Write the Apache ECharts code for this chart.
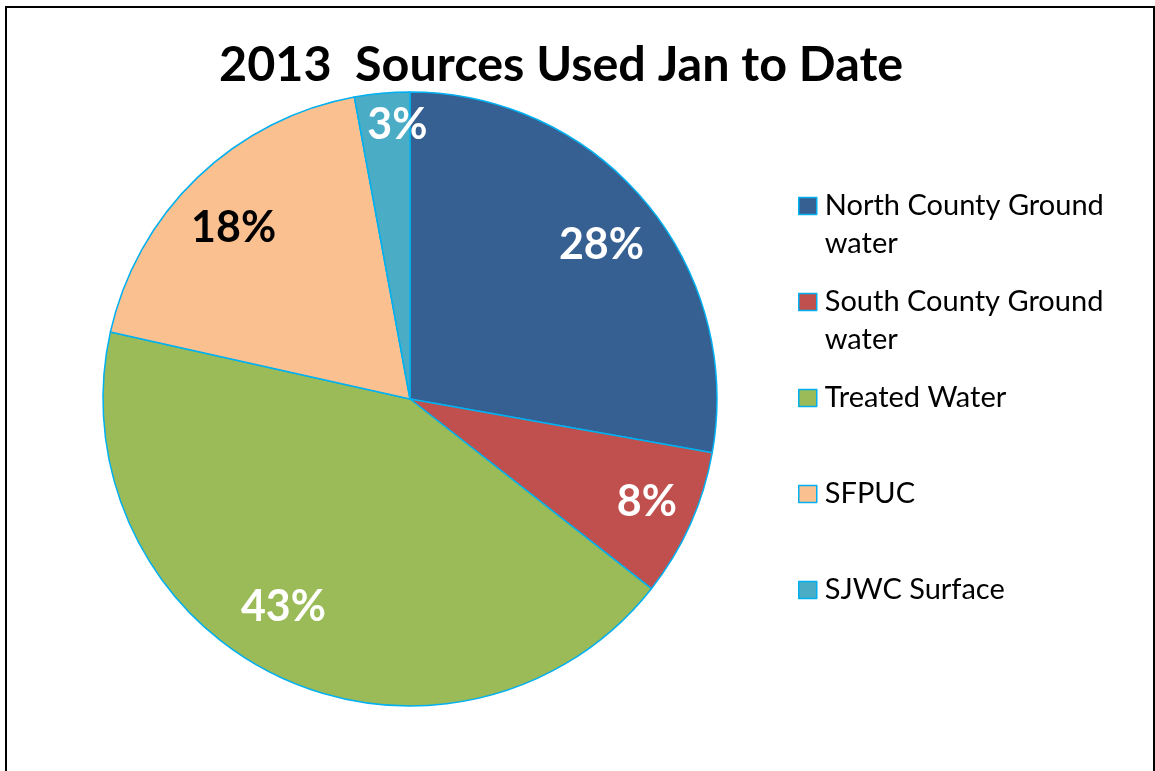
<!DOCTYPE html>
<html>
<head>
<meta charset="utf-8">
<title>2013 Sources Used Jan to Date</title>
<script src="https://cdn.jsdelivr.net/npm/echarts@6/dist/echarts.min.js"></script>
<style>
  html, body { margin: 0; padding: 0; background: #fff; }
  #chart { width: 1155px; height: 771px; }
  /* the outer frame of the original slide: no bottom edge visible */
  .frame {
    position: absolute; left: 5px; top: 6px;
    width: 1146px; height: 800px;
    border: 2px solid #000; pointer-events: none;
  }
</style>
</head>
<body>
<div id="chart"></div>
<div class="frame"></div>
<script>
const sources = ['North County Ground water', 'South County Ground water', 'Treated Water', 'SFPUC', 'SJWC Surface'];
const shares = [27.8, 7.8, 42.9, 18.6, 2.9];
const sliceColors = ['#376092', '#C0504D', '#9BBB59', '#FAC090', '#4BACC6'];
const labelColors = ['#fff', '#fff', '#fff', '#000', '#fff'];

const FONT = 'Lato, "Open Sans", sans-serif';
const EDGE = '#00B0F0';
// Excel doesn't put every percentage at the same radius; small per-slice nudges
const labelNudge = [[1, 6], [10, 2], [-20, -16], [-4, 8], [10, -26]];

const chart = echarts.init(document.getElementById('chart'), null, { renderer: 'canvas' });

const pieData = sources.map((name, i) => ({
  name,
  value: shares[i],
  itemStyle: { color: sliceColors[i] },
}));

// Legend text is forced to middle-align on the swatch, so every entry gets
// three lines (leading blank) to keep the swatch level with the first line.
const legendText = (name) =>
  name.includes(' Ground ') ? '\n' + name.replace(' Ground ', ' Ground\n') : '\n' + name + '\n';

chart.setOption({
  backgroundColor: '#fff',
  animation: false,
  title: {
    text: '2013  Sources Used Jan to Date',
    left: 219,
    top: 41,
    padding: 0,
    textStyle: { fontFamily: FONT, fontWeight: 'bold', fontSize: 48.5, color: '#000' },
  },
  legend: {
    orient: 'vertical',
    left: 798,
    top: 149,
    padding: 0,
    itemGap: -18,
    itemWidth: 18,
    itemHeight: 17,
    icon: 'rect',
    selectedMode: false,
    itemStyle: { borderColor: EDGE, borderWidth: 1.5 },
    formatter: legendText,
    textStyle: { fontFamily: FONT, fontSize: 29, color: '#000', lineHeight: 38, padding: [0, 0, 0, 3] },
    data: sources,
  },
  series: [
    {
      type: 'pie',
      center: [410, 399],
      radius: [0, 307],
      startAngle: 90,
      clockwise: true,
      silent: true,
      label: { show: false },
      labelLine: { show: false },
      itemStyle: { borderColor: EDGE, borderWidth: 1.5 },
      data: pieData,
    },
    {
      // label ring only: places the percentages at ~80% of the radius
      type: 'pie',
      center: [410, 399],
      radius: [184, 307],
      startAngle: 90,
      clockwise: true,
      silent: true,
      percentPrecision: 0,
      itemStyle: { color: 'transparent', borderWidth: 0 },
      labelLine: { show: false },
      label: {
        show: true,
        position: 'inside',
        formatter: '{d}%',
        fontFamily: FONT,
        fontWeight: 'bold',
        fontSize: 43,
      },
      labelLayout: (p) => ({ dx: labelNudge[p.dataIndex][0], dy: labelNudge[p.dataIndex][1] }),
      data: sources.map((name, i) => ({
        name,
        value: shares[i],
        label: { color: labelColors[i] },
      })),
    },
  ],
});
</script>
</body>
</html>
